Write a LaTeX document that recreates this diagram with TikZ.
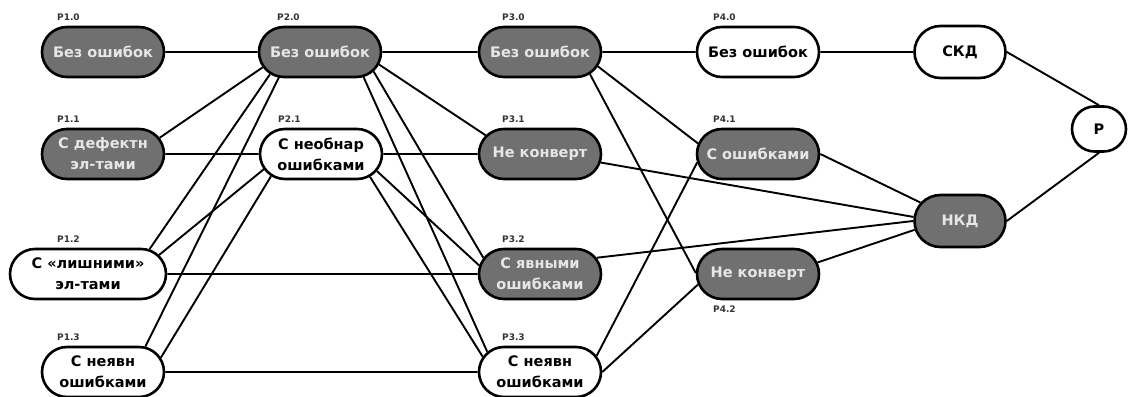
\documentclass[tikz,border=0pt]{standalone}
\usepackage{fontspec}
\setmainfont{DejaVu Sans}
\usetikzlibrary{shapes.misc}
\definecolor{darkbox}{RGB}{112,112,112}
\definecolor{boxtext}{RGB}{230,230,230}

\begin{document}
\begin{tikzpicture}[x=1pt,y=-1pt,
  box/.style={rounded rectangle,draw,line width=2.6pt,minimum width=126pt,minimum height=50pt,inner sep=2pt,align=center,font=\bfseries\fontsize{14.5}{21}\selectfont},
  dark/.style={box,fill=darkbox,text=boxtext},
  light/.style={box,fill=white},
  tag/.style={anchor=south west,inner sep=0pt,text=black!80,font=\bfseries\fontsize{9}{10}\selectfont},
  link/.style={line width=1.9pt}]

\useasboundingbox (0,0) rectangle (1129,396);

% column 1
\node [dark](P10) at (103,52) {Без ошибок};
\node [dark](P11) at (103,154) {С дефектн\\эл-тами};
\node [light,minimum width=160pt](P12) at (88,274) {С «лишними»\\эл-тами};
\node [light](P13) at (103,372) {С неявн\\ошибками};

% column 2
\node [dark](P20) at (320,52) {Без ошибок};
\node [light](P21) at (321,154) {С необнар\\ошибками};

% column 3
\node [dark](P30) at (540,52) {Без ошибок};
\node [dark](P31) at (540,154) {Не конверт};
\node [dark](P32) at (540,274) {С явными\\ошибками};
\node [light](P33) at (540,372) {С неявн\\ошибками};

% column 4
\node [light](P40) at (758,52) {Без ошибок};
\node [dark](P41) at (758,154) {С ошибками};
\node [dark](P42) at (758,274) {Не конверт};

\node [light,minimum width=95pt,minimum height=52pt](SKD) at (960,52) {СКД};
\node [dark,minimum width=95pt,minimum height=52pt](NKD) at (960,221) {НКД};
\node [light,minimum width=58pt,minimum height=45pt](R) at (1099,129) {Р};

% tags
\node [tag](T10) at ([xshift=-46pt,yshift=5pt]P10.north) {Р1.0};
\node [tag](T11) at ([xshift=-46pt,yshift=5pt]P11.north) {Р1.1};
\node [tag](T12) at ([xshift=-31pt,yshift=5pt]P12.north) {Р1.2};
\node [tag](T13) at ([xshift=-46pt,yshift=5pt]P13.north) {Р1.3};
\node [tag](T20) at ([xshift=-43pt,yshift=5pt]P20.north) {Р2.0};
\node [tag](T21) at ([xshift=-43pt,yshift=5pt]P21.north) {Р2.1};
\node [tag](T30) at ([xshift=-38pt,yshift=5pt]P30.north) {Р3.0};
\node [tag](T31) at ([xshift=-38pt,yshift=5pt]P31.north) {Р3.1};
\node [tag](T32) at ([xshift=-38pt,yshift=5pt]P32.north) {Р3.2};
\node [tag](T33) at ([xshift=-38pt,yshift=5pt]P33.north) {Р3.3};
\node [tag](T40) at ([xshift=-45pt,yshift=5pt]P40.north) {Р4.0};
\node [tag](T41) at ([xshift=-45pt,yshift=5pt]P41.north) {Р4.1};
\node [tag,anchor=north west](T42) at ([xshift=-45pt,yshift=-5pt]P42.south) {Р4.2};

% straight links
\foreach \a/\b in {P10/P20,P11/P21,P12/P32,P13/P33,P20/P30,P21/P31,P30/P40,P40/SKD}
  \draw[link] (\a) -- (\b);

% slanted links
\foreach \a/\b in {P11.16/P20.195,P12.22/P20.204,P13.31/P20.212,P12.15/P21.195,P13.14/P21.204,
  P20.348/P31.161,P20.340/P32.164,P20.330/P33.159,P21.343/P32.172,P21.335/P33.165,
  P30.346/P41.170,P30.336/P42.179,P31.352/NKD.175,P32.16/NKD.180,P33.16/P41.188,
  P33.0/P42.190,P41.0/NKD.155,P42.11/NKD.191,SKD.east/R.north,NKD.east/R.south}
  \draw[link] (\a) -- (\b);

\end{tikzpicture}
\end{document}
